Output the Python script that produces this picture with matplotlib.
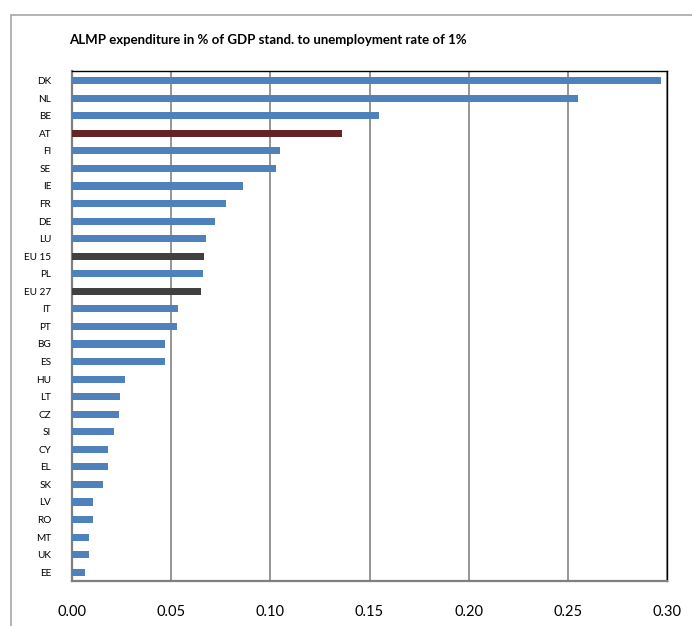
import matplotlib
matplotlib.use("Agg")
import matplotlib.pyplot as plt
from matplotlib.patches import Rectangle

countries = ["DK", "NL", "BE", "AT", "FI", "SE", "IE", "FR", "DE", "LU",
             "EU 15", "PL", "EU 27", "IT", "PT", "BG", "ES", "HU", "LT", "CZ",
             "SI", "CY", "EL", "SK", "LV", "RO", "MT", "UK", "EE"]
values = [0.297, 0.255, 0.155, 0.136, 0.105, 0.103, 0.086, 0.0775, 0.0723, 0.0678,
          0.0665, 0.0658, 0.0651, 0.0535, 0.0528, 0.0469, 0.0469, 0.0267, 0.0242, 0.0235,
          0.0210, 0.0183, 0.0181, 0.0158, 0.0106, 0.0106, 0.0086, 0.0086, 0.0067]
x_ticks = [0.00, 0.05, 0.10, 0.15, 0.20, 0.25, 0.30]
title = "ALMP expenditure in % of GDP stand. to unemployment rate of 1%"

BLUE = "#4F81BD"
HIGHLIGHT = {"AT": "#632523", "EU 15": "#404040", "EU 27": "#404040"}
colors = [HIGHLIGHT.get(c, BLUE) for c in countries]

plt.rcParams["font.family"] = ["Lato", "DejaVu Sans"]

fig = plt.figure(figsize=(6.92, 6.26), dpi=100)
fig.patch.set_facecolor("white")

# chart frame
fig.add_artist(Rectangle((11 / 692, -0.05), 1.0, 1 - 14.5 / 626 + 0.05,
                         transform=fig.transFigure, fill=False,
                         edgecolor="#A6A6A6", linewidth=1.2, zorder=0))

ax = fig.add_axes([72 / 692, 1 - 581 / 626, (667 - 72) / 692, (581 - 71) / 626])
pos = list(range(len(countries)))
ax.barh(pos, values, height=0.4, color=colors, zorder=3)

ax.set_xlim(0, 0.30)
ax.set_ylim(len(countries) - 0.5, -0.55)
ax.set_yticks(pos)
ax.set_yticklabels(countries, fontsize=7.2)
ax.set_xticks(x_ticks)
ax.set_xticklabels([f"{t:.2f}" for t in x_ticks], fontsize=10.5)
ax.tick_params(axis="y", length=0, pad=15)
ax.tick_params(axis="x", length=0, pad=17)

ax.xaxis.grid(True, color="#8C8C8C", linewidth=1.3, zorder=1)
ax.set_axisbelow(True)

for side in ("left", "bottom"):
    ax.spines[side].set_color("#7F7F7F")
    ax.spines[side].set_linewidth(1.6)
for side in ("top", "right"):
    ax.spines[side].set_color("#000000")
    ax.spines[side].set_linewidth(1.0)

fig.text(0.5 * (71 + 465) / 692, 1 - 40 / 626, title, fontsize=9.5,
         fontweight="bold", ha="center", va="center")

fig.savefig("out.png", dpi=100)
